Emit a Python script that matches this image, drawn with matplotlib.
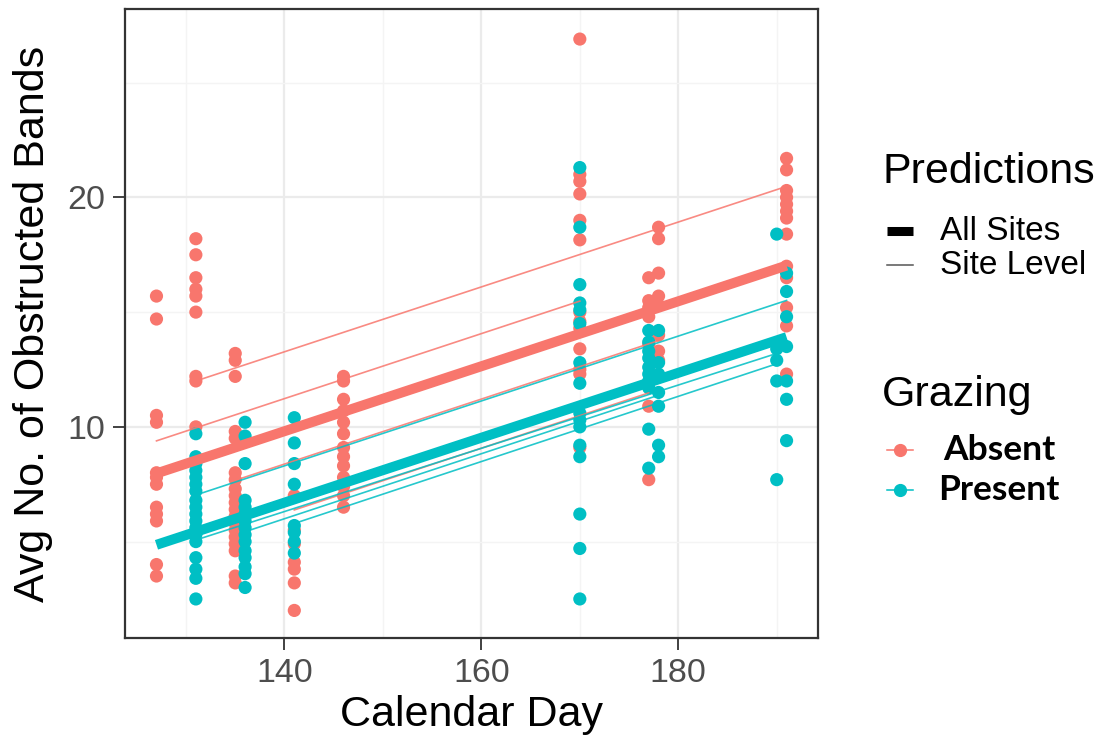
import matplotlib
matplotlib.use('Agg')
import matplotlib.pyplot as plt
from matplotlib.lines import Line2D

plt.rcParams['font.family'] = ['Liberation Sans', 'DejaVu Sans']

RED = '#F8766D'
CYAN = '#00BFC4'

# observed averages per calendar day, grazing absent
absent_days = [127, 131, 135, 141, 146, 170, 177, 178, 191]
absent_vals = [
    [15.7, 14.7, 10.5, 10.2, 8.0, 7.8, 7.5, 6.5, 6.2, 5.9, 4.0, 3.5],
    [18.2, 17.5, 16.5, 16.0, 15.7, 15.0, 12.2, 12.0, 10.0],
    [13.2, 12.9, 12.2, 9.8, 9.5, 8.0, 7.7, 7.3, 7.0, 6.7, 6.4, 6.1, 5.8, 5.5, 5.2, 4.9, 4.6, 3.5, 3.2],
    [7.0, 5.5, 4.9, 4.1, 3.8, 3.2, 2.0],
    [12.2, 12.0, 11.2, 10.7, 10.2, 9.7, 9.1, 8.7, 8.3, 7.8, 7.4, 7.0, 6.5],
    [26.9, 21.0, 20.7, 20.15, 19.0, 18.15, 15.0, 14.6, 14.3, 13.4, 12.5, 12.3, 9.1],
    [16.5, 15.5, 15.2, 14.8, 13.6, 10.9, 7.7],
    [18.7, 18.2, 16.7, 15.7, 15.3, 14.0, 13.3, 12.9],
    [21.7, 21.2, 20.3, 20.0, 19.7, 19.4, 19.1, 18.4, 17.0, 16.5, 15.2, 14.4, 12.3],
]

# observed averages per calendar day, grazing present
present_days = [131, 136, 141, 170, 177, 178, 190, 191]
present_vals = [
    [9.7, 8.7, 8.4, 8.1, 7.8, 7.5, 7.2, 6.8, 6.5, 6.2, 5.9, 5.6, 5.3, 5.0, 4.3, 3.8, 3.4, 2.5],
    [10.2, 9.6, 8.4, 6.8, 6.5, 6.2, 5.9, 5.6, 5.3, 5.0, 4.6, 4.3, 3.9, 3.6, 3.0],
    [10.4, 9.3, 8.4, 7.5, 5.7, 5.4, 5.0, 4.5],
    [21.3, 18.7, 16.2, 15.4, 15.1, 14.5, 12.8, 11.9, 10.6, 10.3, 10.0, 9.2, 8.7, 6.2, 4.7, 2.5],
    [14.2, 13.7, 13.3, 13.0, 12.6, 12.3, 12.0, 11.7, 9.9, 8.2],
    [14.2, 12.8, 12.3, 11.5, 10.9, 9.2, 8.7],
    [18.4, 13.4, 12.9, 12.0, 7.7],
    [16.7, 15.9, 14.8, 13.5, 12.0, 11.2, 9.4],
]

# fixed effect predictions (all sites)
pop_days = [127, 191]
pop_absent = [7.97, 17.03]
pop_present = [4.86, 13.91]

# site level predictions (random intercepts), first and last sampling day
site_graz = ['Absent', 'Absent', 'Absent', 'Absent', 'Present', 'Present', 'Present', 'Present']
site_day0 = [131, 127, 135, 141, 131, 131, 136, 141]
site_day1 = [191, 170, 178, 177, 191, 190, 178, 190]
site_y0 = [12.0, 9.39, 7.67, 6.38, 7.03, 5.07, 5.43, 5.79]
site_y1 = [20.48, 15.48, 13.76, 11.48, 15.51, 13.2, 11.38, 12.75]

colors = {'Absent': RED, 'Present': CYAN}

fig = plt.figure(figsize=(11.07, 7.51), dpi=100)
ax = fig.add_axes([0.1129, 0.1505, 0.6261, 0.8372])

for days, vals, c in [(absent_days, absent_vals, RED), (present_days, present_vals, CYAN)]:
    xs = [d for d, v in zip(days, vals) for _ in v]
    ys = [y for v in vals for y in v]
    ax.scatter(xs, ys, s=90, color=c, edgecolors='none', zorder=2)

for g, d0, d1, y0, y1 in zip(site_graz, site_day0, site_day1, site_y0, site_y1):
    ax.plot([d0, d1], [y0, y1], color=colors[g], lw=1.2, alpha=0.85, zorder=3)

ax.plot(pop_days, pop_absent, color=RED, lw=7.2, solid_capstyle='butt', zorder=4)
ax.plot(pop_days, pop_present, color=CYAN, lw=7.2, solid_capstyle='butt', zorder=4)

ax.set_xlim(123.8, 194.2)
ax.set_ylim(0.8, 28.2)
ax.set_xticks([140, 160, 180])
ax.set_xticks([130, 150, 170, 190], minor=True)
ax.set_yticks([10, 20])
ax.set_yticks([5, 15, 25], minor=True)
ax.grid(which='major', color='#EBEBEB', lw=1.6)
ax.grid(which='minor', color='#F4F4F4', lw=1.0)
ax.set_axisbelow(True)
ax.tick_params(which='minor', length=0)
ax.tick_params(which='major', length=8.5, width=1.3, color='#333333',
               labelsize=24.5, labelcolor='#4D4D4D', pad=6)
for sp in ax.spines.values():
    sp.set_color('#333333')
    sp.set_linewidth(1.6)

ax.set_xlabel('Calendar Day', fontsize=31, labelpad=4)
ax.set_ylabel('Avg No. of Obstructed Bands', fontsize=31, labelpad=10)

# legends drawn by hand at the right side
W, H = 1107, 751


def fx(px):
    return px / W


def fy(py):
    return 1 - py / H


fig.text(fx(882), fy(172), 'Predictions', fontsize=31, va='center', ha='left')
fig.add_artist(Line2D([fx(887), fx(913)], [fy(231), fy(231)], color='black', lw=6.5,
                      solid_capstyle='butt', transform=fig.transFigure))
fig.text(fx(940), fy(231), 'All Sites', fontsize=24, va='center', ha='left')
fig.add_artist(Line2D([fx(887), fx(913)], [fy(265), fy(265)], color='#555555', lw=1.1,
                      transform=fig.transFigure))
fig.text(fx(940), fy(265), 'Site Level', fontsize=24, va='center', ha='left')

fig.text(fx(882), fy(395), 'Grazing', fontsize=31, va='center', ha='left')
for g, py, px in [('Absent', 450, 943), ('Present', 490, 938)]:
    fig.add_artist(Line2D([fx(887), fx(900), fx(913)], [fy(py)] * 3, color=colors[g], lw=1.1,
                          marker='o', markersize=8.5, markevery=[1], transform=fig.transFigure))
    fig.text(fx(px), fy(py), g, fontsize=25.5, fontweight='bold', va='center', ha='left',
             family=['Lato', 'DejaVu Sans'])

fig.savefig('out.png', dpi=100)
